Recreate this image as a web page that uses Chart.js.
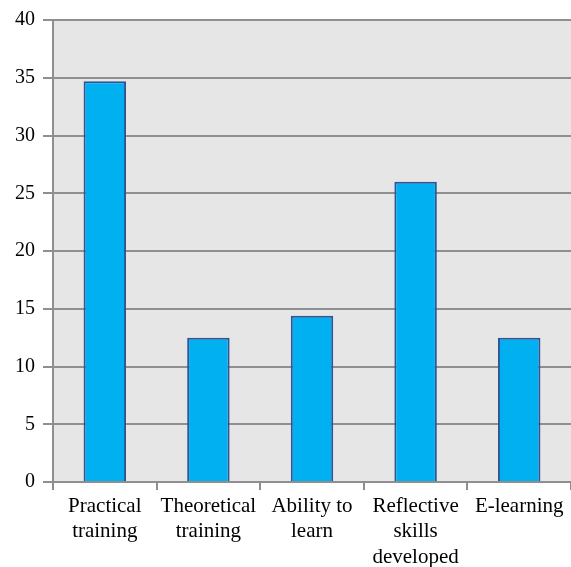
<!DOCTYPE html>
<html>
<head>
<meta charset="utf-8">
<script src="https://cdn.jsdelivr.net/npm/chart.js@4"></script>
<style>
  html, body { margin: 0; padding: 0; background: #ffffff; }
  #wrap { width: 571px; height: 567px; }
</style>
</head>
<body>
<div id="wrap"><canvas id="c" width="571" height="567"></canvas></div>
<script>
// Survey categories (wrapped across lines) and their scores
const categories = [
  ["Practical", "training"],
  ["Theoretical", "training"],
  ["Ability to", "learn"],
  ["Reflective", "skills", "developed"],
  ["E-learning"]
];
const scores = [34.7, 12.5, 14.4, 26.0, 12.5];
const yTicks = { min: 0, max: 40, step: 5 };

const gridGray = '#8f8f8f';

// Fill the plot area with light gray before the bars are drawn
const plotBackground = {
  id: 'plotBackground',
  beforeDraw(chart) {
    const { ctx, chartArea: a } = chart;
    ctx.save();
    ctx.fillStyle = '#e6e6e6';
    ctx.fillRect(a.left, a.top, a.right - a.left, a.bottom - a.top);
    ctx.restore();
  }
};

new Chart(document.getElementById('c'), {
  type: 'bar',
  data: {
    labels: categories,
    datasets: [{
      data: scores,
      backgroundColor: '#00b0f0',
      borderColor: '#2f5597',
      borderWidth: 2,
      categoryPercentage: 1.0,
      barPercentage: 0.41
    }]
  },
  options: {
    responsive: false,
    animation: false,
    devicePixelRatio: 1,
    layout: { padding: { top: 20, right: -2, left: 0, bottom: 0 } },
    plugins: {
      legend: { display: false },
      tooltip: { enabled: false }
    },
    scales: {
      x: {
        offset: true,
        grid: {
          offset: true,
          drawOnChartArea: false,
          drawTicks: true,
          tickLength: 8,
          color: gridGray,
          lineWidth: 2
        },
        border: { display: true, color: gridGray, width: 2 },
        ticks: {
          color: '#000000',
          maxRotation: 0,
          autoSkip: false,
          padding: 4,
          font: { family: '"Liberation Serif", "Times New Roman", serif', size: 21, lineHeight: 1.2 }
        },
        afterFit(scale) { scale.height = 85; }
      },
      y: {
        min: yTicks.min,
        max: yTicks.max,
        ticks: {
          stepSize: yTicks.step,
          color: '#000000',
          padding: 8,
          font: { family: '"Liberation Serif", "Times New Roman", serif', size: 20 }
        },
        grid: {
          color: gridGray,
          lineWidth: 2,
          tickLength: 10
        },
        border: { display: true, color: gridGray, width: 2 },
        afterFit(scale) { scale.width = 53; }
      }
    }
  },
  plugins: [plotBackground]
});
</script>
</body>
</html>
